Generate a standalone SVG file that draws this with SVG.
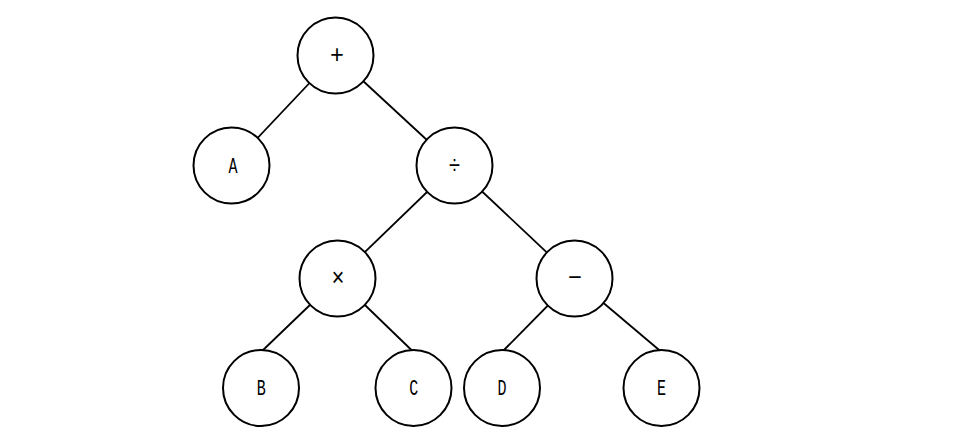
<svg xmlns="http://www.w3.org/2000/svg" width="974" height="443" viewBox="0 0 974 443">
<style>
.n circle{fill:#fff;stroke:#000;stroke-width:2}
.n text{font-family:"Liberation Mono","DejaVu Sans Mono",monospace;font-size:22px;text-anchor:middle;fill:#000}
.n text.s{font-size:26px}
.e line{stroke:#000;stroke-width:1.8}
</style>
<rect width="974" height="443" fill="#fff"/>
<g id="edges" class="e">
<line x1="335.5" y1="55.5" x2="231.5" y2="165.5"/>
<line x1="335.5" y1="55.5" x2="454.5" y2="165.5"/>
<line x1="454.5" y1="165.5" x2="337.5" y2="278.5"/>
<line x1="454.5" y1="165.5" x2="574.5" y2="278.5"/>
<line x1="337.5" y1="278.5" x2="261" y2="352"/>
<line x1="337.5" y1="278.5" x2="413.5" y2="352"/>
<line x1="574.5" y1="278.5" x2="502" y2="352"/>
<line x1="574.5" y1="278.5" x2="661.5" y2="352"/>
</g>
<g id="plus" class="n"><circle cx="335.5" cy="55.5" r="38"/><text class="s" x="337" y="63.3" textLength="14" lengthAdjust="spacingAndGlyphs">+</text></g>
<g id="A" class="n"><circle cx="231.5" cy="165.5" r="38"/><text x="233" y="173" textLength="9" lengthAdjust="spacingAndGlyphs">A</text></g>
<g id="div" class="n"><circle cx="454.5" cy="165.5" r="38"/><text class="s" x="454.5" y="174" textLength="12" lengthAdjust="spacingAndGlyphs">÷</text></g>
<g id="times" class="n"><circle cx="337.5" cy="278.5" r="38"/><text class="s" x="338" y="286.3" textLength="13" lengthAdjust="spacingAndGlyphs">×</text></g>
<g id="minus" class="n"><circle cx="574.5" cy="278.5" r="38"/><text class="s" x="575" y="285.5" textLength="14" lengthAdjust="spacingAndGlyphs">−</text></g>
<g id="B" class="n"><circle cx="261" cy="388" r="38"/><text x="261.3" y="394.5" textLength="9" lengthAdjust="spacingAndGlyphs">B</text></g>
<g id="C" class="n"><circle cx="413.5" cy="388" r="38"/><text x="413.8" y="394.5" textLength="9" lengthAdjust="spacingAndGlyphs">C</text></g>
<g id="D" class="n"><circle cx="502" cy="388" r="38"/><text x="502" y="394.5" textLength="9" lengthAdjust="spacingAndGlyphs">D</text></g>
<g id="E" class="n"><circle cx="661.5" cy="388" r="38"/><text x="661.5" y="394.5" textLength="9" lengthAdjust="spacingAndGlyphs">E</text></g>
</svg>
